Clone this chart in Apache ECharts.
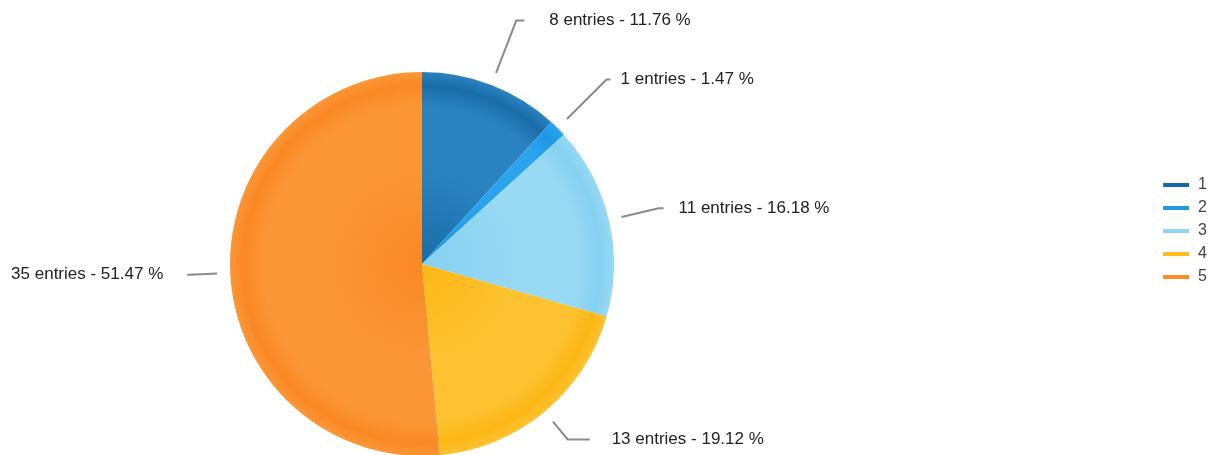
<!DOCTYPE html>
<html>
<head>
<meta charset="utf-8">
<script src="https://cdn.jsdelivr.net/npm/echarts@6/dist/echarts.min.js"></script>
<style>
html,body{margin:0;padding:0;background:#fff;}
#charts{width:1216px;height:455px;}
</style>
</head>
<body>
<div id="charts"></div>
<script>
// 数据
var names = ['1', '2', '3', '4', '5'];
var counts = [8, 1, 11, 13, 35];

// 颜色
var colorsBase = ['#1a6ca8', '#1d97e4', '#86d0f1', '#fbb714', '#f98824'];
var colorsLight = ['#2a83bf', '#2ba4ee', '#98d9f4', '#fdc231', '#fb9637'];
var legendColors = ['#1a68a3', '#1e9ae6', '#8fd4f2', '#fbbb1c', '#f98a25'];
// 引导线 (第一段, 第二段, 文字距离)
var lineLen = [56, 56, 38, 23, 28];
var lineLen2 = [8, 4, 5, 22, 2];
var labelGap = [25, 10, 15, 22, 24];

var cx = 422, cy = 264, rad = 192;

var charts = echarts.init(document.getElementById('charts'));
var pieData = [];
var labelData = [];
for (var i = 0; i < names.length; i++) {
	pieData.push({
		name: names[i],
		value: counts[i],
		itemStyle: {
			color: {
				type: 'radial', x: cx, y: cy, r: rad, global: true,
				colorStops: [
					{offset: 0, color: colorsBase[i]},
					{offset: 0.5, color: colorsLight[i]},
					{offset: 0.82, color: colorsLight[i]},
					{offset: 0.93, color: colorsBase[i]},
					{offset: 1, color: colorsLight[i]}
				]
			}
		}
	});
	labelData.push({
		name: names[i],
		value: counts[i],
		label: {distanceToLabelLine: labelGap[i]},
		labelLine: {length: lineLen[i], length2: lineLen2[i]}
	});
}

var option = {
	animation: false,
	legend: {
		orient: 'vertical',
		right: 4,
		top: 172,
		icon: 'rect',
		itemWidth: 26,
		itemHeight: 4,
		itemGap: 7,
		data: names.map(function (n, i) {
			return {name: n, itemStyle: {color: legendColors[i]}};
		}),
		textStyle: {
			fontFamily: 'Liberation Sans',
			fontSize: 16,
			color: '#444',
			padding: [0, 0, 0, 4]
		}
	},
	series: [{
		type: 'pie',
		center: [cx, cy],
		radius: rad,
		startAngle: 90,
		clockwise: true,
		data: pieData,
		label: {show: false},
		labelLine: {show: false}
	}, {
		// 只用来画标签, 引导线离饼图有一点距离
		type: 'pie',
		center: [cx, cy],
		radius: rad + 13,
		startAngle: 90,
		clockwise: true,
		silent: true,
		avoidLabelOverlap: false,
		data: labelData,
		itemStyle: {color: 'rgba(0,0,0,0)'},
		label: {
			show: true,
			formatter: '{c} entries - {d} %',
			fontFamily: 'Liberation Sans',
			fontSize: 17,
			color: '#222'
		},
		labelLine: {
			show: true,
			smooth: false,
			lineStyle: {color: '#8a8a8a', width: 2}
		}
	}]
};
charts.setOption(option);
</script>
</body>
</html>
